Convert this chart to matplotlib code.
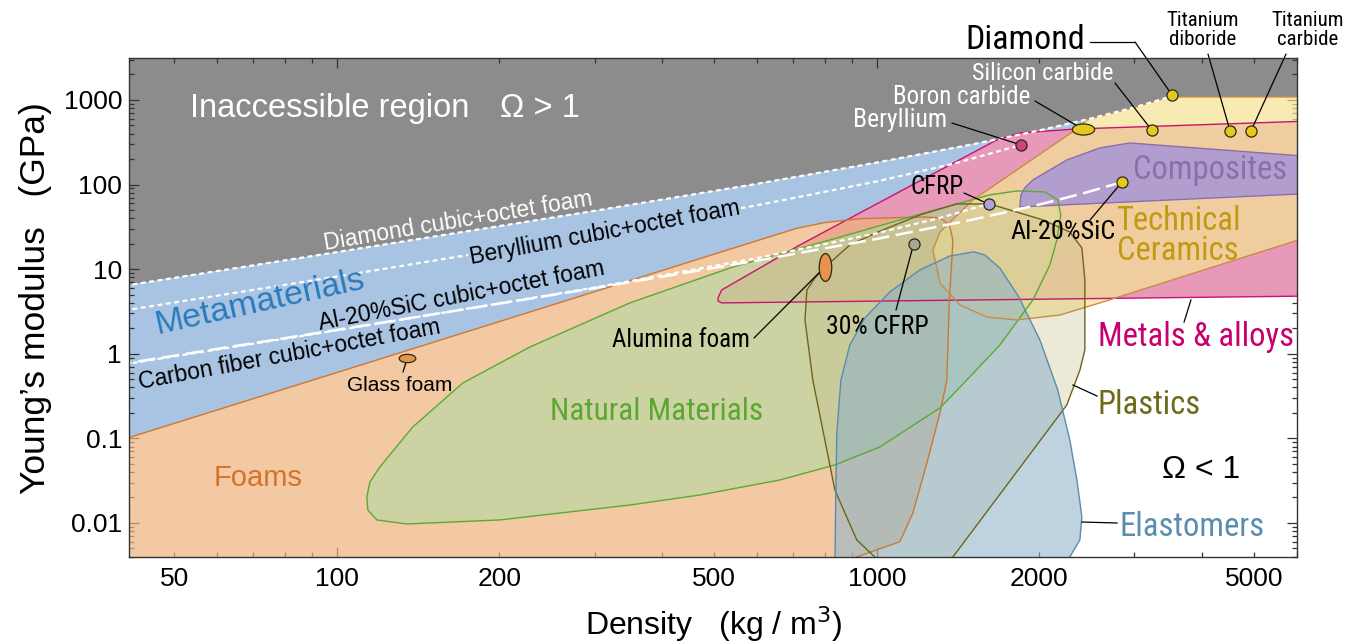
import numpy as np
import matplotlib
matplotlib.use("Agg")
import matplotlib.pyplot as plt
from matplotlib import font_manager as fm
from matplotlib.font_manager import FontProperties
from matplotlib.path import Path
from matplotlib.transforms import Affine2D
from matplotlib.ticker import FixedLocator, LogLocator, FuncFormatter

plt.rcParams['font.family'] = ['Liberation Sans', 'DejaVu Sans']

# ---------------------------------------------------------------------------
# Material-class envelopes: (density kg/m^3, Young's modulus GPa)
# ---------------------------------------------------------------------------
foams = [(35, 0.0738), (100, 0.60), (338, 6.87), (600, 21.7), (711, 30.4),
         (800, 35.5), (930, 39.5), (1217, 41.4), (1309, 40.3), (1362, 33.5),
         (1383, 22.1), (1377, 12.8), (1362, 4.32), (1348, 0.49), (1309, 0.20),
         (1238, 0.0512), (1166, 0.0131), (1103, 0.0060), (918, 0.00396),
         (783, 0.0025), (35, 0.0025)]

natural = [(113.6, 0.0203), (115.1, 0.0305), (120.1, 0.0459), (138.2, 0.1364),
           (171.1, 0.452), (227.8, 1.203), (348.8, 3.99), (541, 10.6), (818, 22.1),
           (1103, 38.2), (1383, 57.4), (1619, 75.4), (1817, 84.0), (2047, 81.8),
           (2163, 65.8), (2191, 43.7), (2154, 22.1), (2091, 11.2), (1945, 4.32),
           (1690, 1.27), (1468, 0.49), (1309, 0.229), (1013, 0.0791), (836, 0.0485),
           (661, 0.0322), (470, 0.0214), (349, 0.0163), (200, 0.01085),
           (134.8, 0.00973), (118.6, 0.01085), (114.1, 0.0142)]

metals = [(508, 4.57), (516, 5.68), (720, 19.3), (1117, 86.3), (1668, 336.6),
          (1840, 407.4), (2347, 454.3), (6500, 566), (6500, 4.82), (516, 3.99),
          (508, 4.21)]

ceramics = [(2347, 454.3), (2450, 585), (3000, 817), (3480, 1085), (6500, 1085),
            (6500, 25.7), (2588, 3.99), (2182, 2.87), (1817, 2.51), (1598, 2.72),
            (1425, 3.77), (1309, 6.87), (1270, 16.9), (1309, 27.5), (1506, 65.8)]

composites = [(1840, 54.4), (1848, 75.4), (1879, 91.2), (1945, 113.3), (2248, 195.4),
              (2588, 270.8), (2941, 310.2), (6500, 212), (6500, 79)]

plastics = [(742, 5.68), (768, 7.87), (798, 10.3), (891, 19.3), (995, 26.8),
            (1201, 43.7), (1407, 59.0), (1619, 59.0), (2030, 38.2), (2277, 27.5),
            (2397, 17.8), (2428, 7.45), (2428, 1.109), (2377, 0.64), (2248, 0.248),
            (1383, 0.00396), (1201, 0.00243), (1057, 0.00278), (991, 0.00396),
            (918, 0.0063), (836, 0.0245), (761, 0.49), (736, 2.51)]

elastomers = [(1512, 16.0), (1365, 14.3), (1201, 9.78), (1057, 5.38), (950, 2.65),
              (891, 1.27), (858, 0.49), (843, 0.116), (839, 0.0187), (836, 0.0025),
              (2182, 0.0025), (2277, 0.00396), (2377, 0.0063), (2397, 0.01178),
              (2347, 0.0322), (2277, 0.0957), (2163, 0.373), (2004, 1.456),
              (1832, 4.69), (1690, 10.3), (1585, 14.7)]

# Cubic+octet foam bounds (Omega = 1 lines)
diamond_rho = [35, 100, 300, 600, 1000, 1500, 2000, 2500, 3000, 3480]
diamond_E = [5.5, 15.9, 48.9, 102, 182, 298, 436, 606, 817, 1085]
beryllium_rho = [35, 100, 300, 600, 1000, 1400, 1850]
beryllium_E = [2.81, 8.17, 25.9, 56.9, 108.9, 179, 294]
alsic_rho = [35, 100, 300, 600, 1000, 1500, 2000, 2400, 2845]
alsic_E = [0.662, 1.914, 5.96, 12.61, 22.8, 38.3, 58.0, 78.1, 107]
cfrp_rho = [35, 100, 300, 600, 1000, 1300, 1610]
cfrp_E = [0.648, 1.891, 6.06, 13.51, 26.6, 39.9, 59]

# Individual materials
mat_names = ['Diamond', 'Silicon carbide', 'Titanium diboride', 'Titanium carbide',
             'Boron carbide', 'Beryllium', 'CFRP', 'Al-20%SiC', '30% CFRP',
             'Alumina foam', 'Glass foam']
mat_rho = [3520, 3230, 4510, 4930, 2410, 1850, 1610, 2845, 1170, 800, 135]
mat_E = [1150, 440, 430, 430, 450, 294, 59, 107, 20, 10.5, 0.89]

x_labeled = [50, 100, 200, 500, 1000, 2000, 5000]
y_labeled = [0.01, 0.1, 1, 10, 100, 1000]


# ---------------------------------------------------------------------------
# A condensed sans face for the material labels, if one is installed
# ---------------------------------------------------------------------------
def find_condensed():
    def regular(f):
        return f.style == 'normal' and str(f.weight) in ('400', 'normal', 'regular', 'book')
    prefer = ['Liberation Sans Narrow', 'Arial Narrow', 'Roboto Condensed',
              'Open Sans Condensed', 'Noto Sans Condensed']
    for name in prefer:
        for f in fm.fontManager.ttflist:
            if f.name == name and regular(f):
                return f.fname
    for f in fm.fontManager.ttflist:
        if (f.stretch in ('condensed', 'semi-condensed') and regular(f)
                and 'Sans' in f.name and 'DejaVu' not in f.name
                and 'Mono' not in f.name and 'CJK' not in f.name):
            return f.fname
    return None


COND_FILE = find_condensed()


def narrow_font(size):
    if COND_FILE:
        return FontProperties(fname=COND_FILE, size=size)
    return FontProperties(family=['Liberation Sans', 'DejaVu Sans'], size=size * 0.84)


def regular_font(size):
    return FontProperties(family=['Liberation Sans', 'DejaVu Sans'], size=size)


# ---------------------------------------------------------------------------
fig = plt.figure(figsize=(13.68, 6.44), dpi=100)
ax = fig.add_axes([0.0943, 0.1351, 0.8538, 0.7748])
ax.set_xscale('log')
ax.set_yscale('log')
ax.set_xlim(41.2, 6000)
ax.set_ylim(0.00396, 3130)

GRAY = '#8c8c8c'
BLUE = '#a9c3e3'

# inaccessible region above the diamond bound
gx = diamond_rho + [7000, 7000, 30]
gy = diamond_E + [1085, 8000, 8000]
ax.fill(gx, gy, facecolor=GRAY, edgecolor='none', zorder=1)

# metamaterial band between the diamond bound and the foam envelope
foam_top = foams[:6]
bx = diamond_rho[:8] + [2347, 1840, 1668, 1117, 870] + [p[0] for p in foam_top[::-1]]
by = diamond_E[:8] + [454.3, 407.4, 336.6, 86.3, 37.5] + [p[1] for p in foam_top[::-1]]
ax.fill(bx, by, facecolor=BLUE, edgecolor='none', zorder=1)


def region(pts, fc, alpha, ec, z):
    xs = [p[0] for p in pts]
    ys = [p[1] for p in pts]
    ax.fill(xs, ys, facecolor=fc, alpha=alpha, edgecolor='none', zorder=z)
    ax.fill(xs, ys, facecolor='none', edgecolor=ec, lw=1.0, zorder=9)


region(metals, '#e898b8', 1.0, '#c8146e', 2)
region(foams, '#eeb27c', 0.7, '#cd7832', 3)
region(natural, '#a7dca0', 0.5, '#5aaa32', 4)
region(ceramics, '#f4e296', 0.72, '#c88c46', 5)
region(composites, '#b29ece', 1.0, '#8c6eaa', 6)
region(plastics, '#c8be8c', 0.33, '#6e641e', 7)
region(elastomers, '#8fb4c8', 0.58, '#5a8cab', 8)

# Omega = 1 lines
ax.plot(diamond_rho, diamond_E, color='white', lw=1.6, ls=(0, (2.2, 1.6)), zorder=10)
ax.plot(beryllium_rho, beryllium_E, color='white', lw=1.6, ls=(0, (2.2, 1.6)), zorder=10)
ax.plot(cfrp_rho, cfrp_E, color='white', lw=1.6, ls=(0, (2.2, 1.6)), zorder=10)
ax.plot(alsic_rho, alsic_E, color='white', lw=1.8, ls=(0, (7, 2.6)), zorder=10)

# Individual material markers
circ = Path.unit_circle()
wide = Affine2D().scale(1.0, 0.5).transform_path(circ)
tall = Affine2D().scale(0.45, 1.0).transform_path(circ)
YEL = '#e6c81e'
styles = {
    'Diamond': ('o', 8, YEL), 'Silicon carbide': ('o', 8, YEL),
    'Titanium diboride': ('o', 8, YEL), 'Titanium carbide': ('o', 8, YEL),
    'Boron carbide': (wide, 16, YEL), 'Beryllium': ('o', 8, '#c84678'),
    'CFRP': ('o', 8, '#aaa6d8'), 'Al-20%SiC': ('o', 8, YEL),
    '30% CFRP': ('o', 8, '#a8a890'), 'Alumina foam': (tall, 20, '#e8924a'),
    'Glass foam': (wide, 12, '#e0964e'),
}
pos = {}
for n, r, e in zip(mat_names, mat_rho, mat_E):
    m, s, c = styles[n]
    ax.plot([r], [e], marker=m, ms=s, mfc=c, mec='#2a2a10', mew=0.9, ls='none',
            zorder=12, clip_on=False)
    pos[n] = (r, e)

LK = dict(arrowstyle='-', color='black', lw=0.9, shrinkA=0, shrinkB=0)


def leader(name, fx, fy):
    ax.annotate('', xy=pos[name], xycoords='data', xytext=(fx, fy),
                textcoords='axes fraction', arrowprops=LK, zorder=11,
                annotation_clip=False)


leader('Diamond', 0.8613, 1.0321)
ax.plot([0.8228, 0.8613], [1.0321, 1.0321], transform=ax.transAxes, color='black',
        lw=0.9, clip_on=False, zorder=11)
leader('Titanium diboride', 0.9238, 1.0080)
leader('Titanium carbide', 0.9906, 1.0080)
leader('Silicon carbide', 0.8442, 0.9499)
leader('Boron carbide', 0.7757, 0.9138)
leader('Beryllium', 0.7046, 0.8697)
leader('CFRP', 0.7149, 0.7295)
leader('Al-20%SiC', 0.8228, 0.6754)
leader('30% CFRP', 0.6567, 0.4950)
leader('Alumina foam', 0.5351, 0.4389)
leader('Glass foam', 0.2346, 0.3707)
for xs, ys in [([0.9033, 0.9092], [0.4709, 0.5150]),
               ([0.8288, 0.8082], [0.3226, 0.3447]),
               ([0.8459, 0.8159], [0.0681, 0.0701])]:
    ax.plot(xs, ys, transform=ax.transAxes, color='black', lw=0.9, zorder=11)


def label(fx, fy, s, fp, color='black', rot=0, **kw):
    ax.text(fx, fy, s, transform=ax.transAxes, fontproperties=fp, color=color,
            rotation=rot, rotation_mode='anchor', ha=kw.pop('ha', 'center'),
            va=kw.pop('va', 'center'), zorder=13, clip_on=False, **kw)


R, N = regular_font, narrow_font
label(0.0522, 0.8998, 'Inaccessible region', R(23.5), 'white', ha='left')
label(0.3176, 0.8998, 'Ω > 1', R(23.5), 'white', ha='left')
label(0.2817, 0.6733, 'Diamond cubic+octet foam', R(16.5), 'white', rot=9.5)
label(0.4075, 0.6493, 'Beryllium cubic+octet foam', R(16.5), 'black', rot=10.5,
      bbox=dict(boxstyle='square,pad=0.05', fc=BLUE, ec='none'))
label(0.1122, 0.5090, 'Metamaterials', R(24.5), '#2a7bbb', rot=12.5)
label(0.2851, 0.5230, 'Al-20%SiC cubic+octet foam', R(16.5), 'black', rot=11)
label(0.1370, 0.4048, 'Carbon fiber cubic+octet foam', R(16.5), 'black', rot=10.5)
label(0.2320, 0.3447, 'Glass foam', R(15), 'black')
label(0.1104, 0.1583, 'Foams', R(21), '#d2752a')
label(0.4521, 0.2906, 'Natural Materials', N(22.5), '#5aa832')
label(0.4726, 0.4349, 'Alumina foam', N(18), 'black')
label(0.6404, 0.4609, '30% CFRP', N(18.5), 'black')
label(0.6918, 0.7415, 'CFRP', N(18), 'black')
label(0.7997, 0.6513, 'Al-20%SiC', N(19), 'black')
label(0.8981, 0.6433, 'Technical\nCeramics', N(23.5), '#c09a10', linespacing=0.95)
label(0.9255, 0.7756, 'Composites', N(23.5), '#8a70a8')
label(0.9135, 0.4409, 'Metals & alloys', N(23.5), '#c8006e')
label(0.8733, 0.3046, 'Plastics', N(23.5), '#6e6a1a')
label(0.9178, 0.1743, 'Ω < 1', R(23), 'black')
label(0.9101, 0.0601, 'Elastomers', N(23.5), '#5a8eb0')
label(0.7671, 1.0361, 'Diamond', N(24.5), 'black')
label(0.9195, 1.0561, 'Titanium\ndiboride', N(15), 'black', linespacing=0.95)
label(1.0094, 1.0561, 'Titanium\ncarbide', N(15), 'black', linespacing=0.95)
label(0.7825, 0.9699, 'Silicon carbide', N(17.5), 'white')
label(0.7132, 0.9218, 'Boron carbide', N(18), 'white')
label(0.6601, 0.8758, 'Beryllium', N(18.5), 'white')

# Axes styling
ax.xaxis.set_major_locator(FixedLocator([100, 1000]))
ax.xaxis.set_minor_locator(LogLocator(base=10, subs=np.arange(2, 10) * 1.0, numticks=30))
ax.yaxis.set_major_locator(FixedLocator(y_labeled))
ax.yaxis.set_minor_locator(LogLocator(base=10, subs=np.arange(2, 10) * 1.0, numticks=30))
fmt = FuncFormatter(lambda v, p: f"{v:g}")
ax.xaxis.set_major_formatter(fmt)
ax.xaxis.set_minor_formatter(FuncFormatter(
    lambda v, p: f"{v:g}" if any(abs(v - t) < 1e-6 * t for t in x_labeled) else ""))
ax.yaxis.set_major_formatter(fmt)
ax.tick_params(which='both', direction='in', top=True, right=True, labelsize=19,
               width=0.9, color='#333333')
ax.tick_params(which='major', length=7.5)
ax.tick_params(which='minor', length=3.8)
ax.tick_params(axis='x', which='both', pad=7)
ax.tick_params(axis='y', which='both', pad=5)
for sp in ax.spines.values():
    sp.set_color('#333333')
    sp.set_linewidth(1.0)
    sp.set_zorder(14)

ax.set_xlabel('Density   (kg / m$^3$)', fontsize=23)
ax.set_ylabel('Young’s modulus   (GPa)', fontsize=25.5)
ax.xaxis.set_label_coords(0.501, -0.095)
ax.yaxis.set_label_coords(-0.066, 0.519)

fig.savefig('out.png', dpi=100)
